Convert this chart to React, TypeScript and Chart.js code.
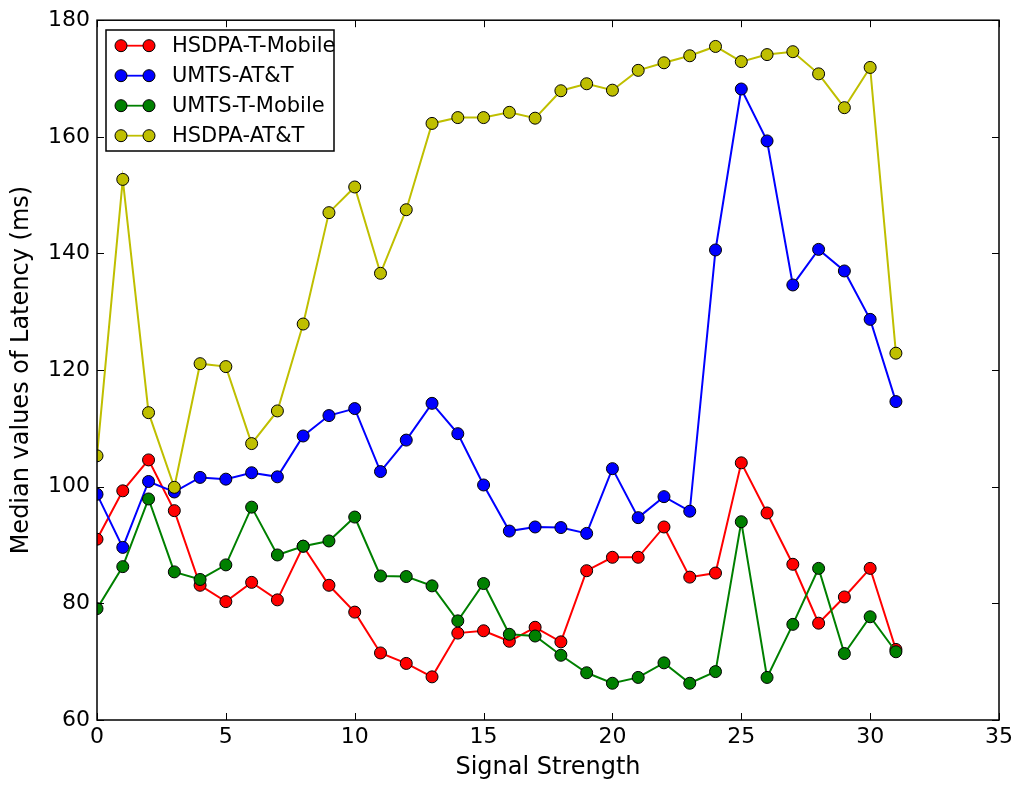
import React, { useEffect, useRef } from 'react';
import { Chart, registerables } from 'chart.js';

Chart.register(...registerables);

const signalStrength = [0, 1, 2, 3, 4, 5, 6, 7, 8, 9, 10, 11, 12, 13, 14, 15, 16, 17, 18, 19, 20, 21, 22, 23, 24, 25, 26, 27, 28, 29, 30, 31];

const hsdpaTMobile = [91.0, 99.3, 104.6, 95.9, 83.1, 80.3, 83.6, 80.6, 89.8, 83.1, 78.5, 71.5, 69.7, 67.4, 74.9, 75.3, 73.5, 75.9, 73.4, 85.6, 87.9, 87.9, 93.1, 84.5, 85.2, 104.1, 95.5, 86.7, 76.6, 81.1, 86.0, 72.1];
const umtsATT = [98.7, 89.6, 100.9, 99.1, 101.6, 101.3, 102.4, 101.7, 108.7, 112.2, 113.4, 102.6, 108.0, 114.3, 109.1, 100.3, 92.4, 93.1, 93.0, 92.0, 103.1, 94.7, 98.3, 95.8, 140.6, 168.2, 159.3, 134.6, 140.7, 137.0, 128.7, 114.6];
const umtsTMobile = [79.1, 86.3, 97.9, 85.4, 84.1, 86.6, 96.5, 88.3, 89.8, 90.7, 94.8, 84.7, 84.6, 83.0, 77.0, 83.4, 74.7, 74.4, 71.1, 68.1, 66.3, 67.3, 69.8, 66.3, 68.3, 94.0, 67.3, 76.4, 86.0, 71.4, 77.7, 71.7];
const hsdpaATT = [105.3, 152.7, 112.7, 99.9, 121.1, 120.6, 107.4, 113.0, 127.9, 147.0, 151.4, 136.6, 147.5, 162.3, 163.3, 163.3, 164.2, 163.2, 167.9, 169.1, 168.0, 171.4, 172.7, 173.9, 175.5, 172.9, 174.1, 174.6, 170.8, 165.0, 171.9, 122.9];

const seriesLabels = ['HSDPA-T-Mobile', 'UMTS-AT&T', 'UMTS-T-Mobile', 'HSDPA-AT&T'];
const seriesColors = ['#ff0000', '#0000ff', '#008000', '#bfbf00'];
const seriesValues = [hsdpaTMobile, umtsATT, umtsTMobile, hsdpaATT];

const xMin = 0, xMax = 35, xStep = 5;
const yMin = 60, yMax = 180, yStep = 20;

const FONT = "'DejaVu Sans', sans-serif";

const framePlugin = {
  id: 'mplFrame',
  afterDatasetsDraw(chart: any) {
    const { ctx, chartArea } = chart;
    const { left, right, top, bottom } = chartArea;
    const xs = chart.scales.x;
    const ys = chart.scales.y;
    ctx.save();
    ctx.strokeStyle = '#000';
    ctx.lineWidth = 1;
    const tl = 7;
    xs.ticks.forEach((t: any) => {
      const px = Math.round(xs.getPixelForValue(t.value)) + 0.5;
      ctx.beginPath();
      ctx.moveTo(px, bottom); ctx.lineTo(px, bottom - tl);
      ctx.moveTo(px, top); ctx.lineTo(px, top + tl);
      ctx.stroke();
    });
    ys.ticks.forEach((t: any) => {
      const py = Math.round(ys.getPixelForValue(t.value)) + 0.5;
      ctx.beginPath();
      ctx.moveTo(left, py); ctx.lineTo(left + tl, py);
      ctx.moveTo(right, py); ctx.lineTo(right - tl, py);
      ctx.stroke();
    });
    ctx.lineWidth = 1.5;
    ctx.strokeRect(left, top, right - left, bottom - top);

    // legend
    const bx = 106, by = 30, bw = 228, bh = 121;
    ctx.fillStyle = '#fff';
    ctx.fillRect(bx, by, bw, bh);
    ctx.lineWidth = 1.5;
    ctx.strokeStyle = '#000';
    ctx.strokeRect(bx, by, bw, bh);
    chart.data.datasets.forEach((ds: any, i: number) => {
      const ry = 45.7 + i * 30;
      ctx.strokeStyle = ds.borderColor;
      ctx.lineWidth = 1.8;
      ctx.beginPath();
      ctx.moveTo(121, ry); ctx.lineTo(149, ry);
      ctx.stroke();
      [121, 149].forEach((cx) => {
        ctx.beginPath();
        ctx.arc(cx, ry, 6, 0, Math.PI * 2);
        ctx.fillStyle = ds.backgroundColor;
        ctx.fill();
        ctx.lineWidth = 1;
        ctx.strokeStyle = '#000';
        ctx.stroke();
      });
      ctx.fillStyle = '#000';
      ctx.font = `21px ${FONT}`;
      ctx.textBaseline = 'middle';
      ctx.textAlign = 'left';
      ctx.fillText(ds.label, 172, ry + 1);
    });
    ctx.restore();
  },
};

export default function App() {
  const ref = useRef<HTMLCanvasElement | null>(null);
  useEffect(() => {
    document.body.style.margin = '0';
    if (!ref.current) return;
    const datasets = seriesValues.map((vals, i) => ({
      label: seriesLabels[i],
      data: vals.map((v, j) => ({ x: signalStrength[j], y: v })),
      borderColor: seriesColors[i],
      backgroundColor: seriesColors[i],
      pointBackgroundColor: seriesColors[i],
      pointBorderColor: '#000',
      pointBorderWidth: 1,
      pointRadius: 6,
      borderWidth: 2,
      tension: 0,
      fill: false,
      clip: 0,
      order: seriesValues.length - i,
    }));
    const chart = new Chart(ref.current, {
      type: 'line',
      data: { datasets },
      options: {
        responsive: false,
        animation: false,
        layout: { padding: { left: 0, right: 22, top: 20, bottom: 0 } },
        plugins: { legend: { display: false }, tooltip: { enabled: false } },
        scales: {
          x: {
            type: 'linear',
            min: xMin,
            max: xMax,
            ticks: { stepSize: xStep, color: '#000', font: { family: FONT, size: 22 }, padding: 4, maxRotation: 0 },
            grid: { display: false, drawTicks: false },
            border: { display: false },
            title: { display: true, text: 'Signal Strength', color: '#000', font: { family: FONT, size: 24 }, padding: { top: 0, bottom: 5 } },
            afterFit: (s: any) => { s.height = 67; },
          },
          y: {
            type: 'linear',
            min: yMin,
            max: yMax,
            ticks: { stepSize: yStep, color: '#000', font: { family: FONT, size: 22 }, padding: 7 },
            grid: { display: false, drawTicks: false },
            border: { display: false },
            title: { display: true, text: 'Median values of Latency (ms)', color: '#000', font: { family: FONT, size: 24 }, padding: { top: 7, bottom: 0 } },
            afterFit: (s: any) => { s.width = 97; },
          },
        },
      },
      plugins: [framePlugin],
    });
    return () => chart.destroy();
  }, []);
  return <canvas ref={ref} width={1021} height={787} style={{ display: 'block' }} />;
}
